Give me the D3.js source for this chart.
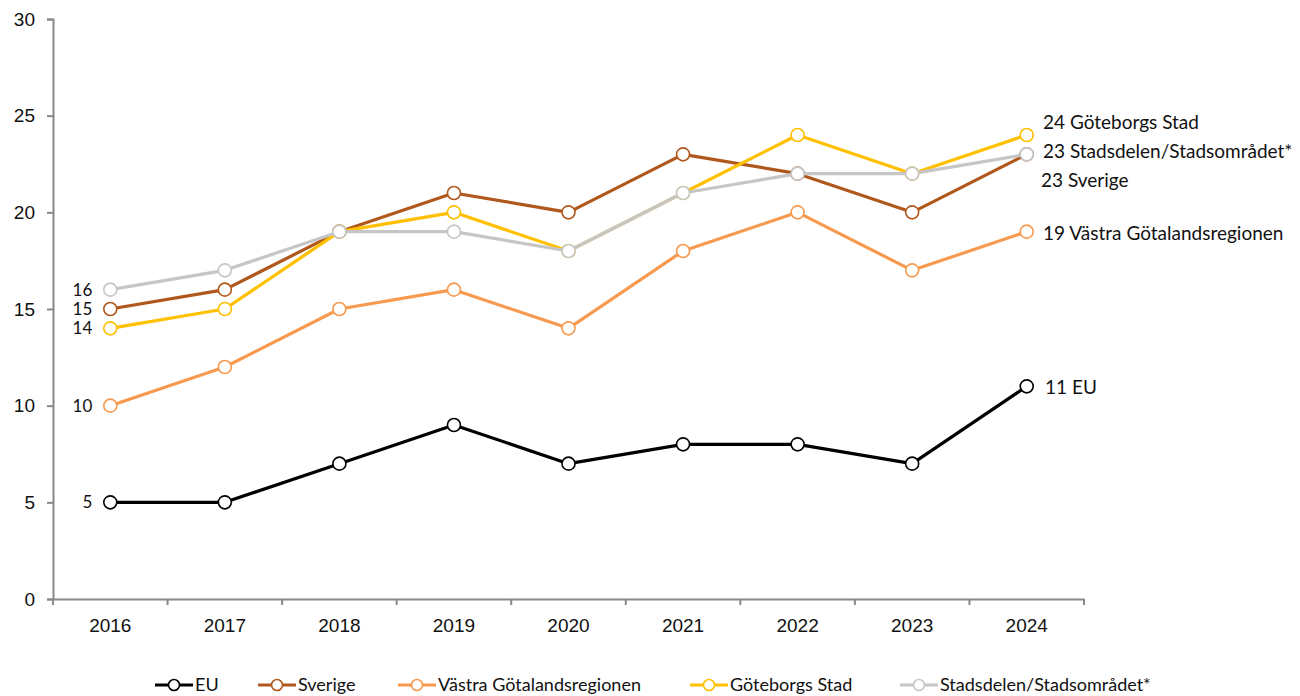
<!DOCTYPE html>
<html><head><meta charset="utf-8">
<script src="https://cdn.jsdelivr.net/npm/d3@7"></script>
<style>body{margin:0;background:#fff}</style>
</head><body>
<svg id="c" width="1300" height="696"></svg>
<script>
const years = ["2016","2017","2018","2019","2020","2021","2022","2023","2024"];
const seriesNames = ["EU","Sverige","Västra Götalandsregionen","Göteborgs Stad","Stadsdelen/Stadsområdet*"];
const euValues = [5,5,7,9,7,8,8,7,11];
const sverigeValues = [15,16,19,21,20,23,22,20,23];
const vastraValues = [10,12,15,16,14,18,20,17,19];
const goteborgValues = [14,15,19,20,18,21,24,22,24];
const stadsdelenValues = [16,17,19,19,18,21,22,22,23];
const yTicks = [0,5,10,15,20,25,30];
const colors = ["#000000","#b0581c","#f79a4f","#ffc000","#c6c6c6"];
const allValues = [euValues,sverigeValues,vastraValues,goteborgValues,stadsdelenValues];

const svg = d3.select("#c");
const x = d3.scaleBand().domain(years).range([53,1084]);
const y = d3.scaleLinear().domain([0,30]).range([599,19]);
const cx = d => x(d) + x.bandwidth()/2;

const af = "Liberation Sans, Arial, sans-serif";
const gy = svg.append("g").attr("transform","translate(53,0)")
  .call(d3.axisLeft(y).tickValues(yTicks).tickSize(6).tickPadding(12));
gy.select(".domain").attr("stroke","#888").attr("stroke-width",2);
gy.selectAll(".tick line").attr("stroke","#888").attr("stroke-width",2);
gy.selectAll("text").attr("font-family",af).attr("font-size",19).attr("fill","#111");

const gx = svg.append("g").attr("transform","translate(0,599)")
  .call(d3.axisBottom(x).tickSize(0).tickPadding(20));
gx.select(".domain").attr("stroke","#888").attr("stroke-width",2);
gx.selectAll("text").attr("font-family",af).attr("font-size",19).attr("fill","#111");
const bounds = years.map(d=>x(d)).concat([x(years[years.length-1])+x.bandwidth()]);
svg.append("g").selectAll("line").data(bounds).join("line")
  .attr("x1",d=>d).attr("x2",d=>d).attr("y1",599).attr("y2",605)
  .attr("stroke","#888").attr("stroke-width",2);

const line = d3.line().x((d,i)=>cx(years[i])).y(d=>y(d));
allValues.forEach((vals,k)=>{
  svg.append("path").datum(vals).attr("d",line).attr("fill","none")
    .attr("stroke",colors[k]).attr("stroke-width",3.2).attr("stroke-linejoin","round");
  svg.append("g").selectAll("circle").data(vals).join("circle")
    .attr("cx",(d,i)=>cx(years[i])).attr("cy",d=>y(d)).attr("r",6.5)
    .attr("fill","#fff").attr("stroke",colors[k]).attr("stroke-width",1.6);
});

const lf = "Lato, 'Open Sans', sans-serif";
allValues.forEach((vals,k)=>{
  svg.append("text").attr("x",cx(years[0])-18).attr("y",y(vals[0]))
    .attr("dy","0.35em").attr("text-anchor","end").attr("font-family",lf)
    .attr("font-size",17).attr("fill","#111").text(vals[0]);
});
const endY = [387,180,233,122,151];
const endX = [1045,1041,1043,1043,1043];
allValues.forEach((vals,k)=>{
  svg.append("text").attr("x",endX[k]).attr("y",endY[k]).attr("dy","0.35em")
    .attr("font-family",lf).attr("font-size",19).attr("fill","#111")
    .text(vals[vals.length-1]+" "+seriesNames[k]);
});

const legX = [155,258,398,690,900];
seriesNames.forEach((n,k)=>{
  const g = svg.append("g").attr("transform",`translate(${legX[k]},685)`);
  g.append("line").attr("x1",0).attr("x2",38).attr("y1",0).attr("y2",0)
    .attr("stroke",colors[k]).attr("stroke-width",3.2);
  g.append("circle").attr("cx",19).attr("cy",0).attr("r",5.5).attr("fill","#fff")
    .attr("stroke",colors[k]).attr("stroke-width",1.6);
  g.append("text").attr("x",40).attr("y",0).attr("dy","0.35em")
    .attr("font-family",lf).attr("font-size",18).attr("fill","#111").text(n);
});
</script>
</body></html>
